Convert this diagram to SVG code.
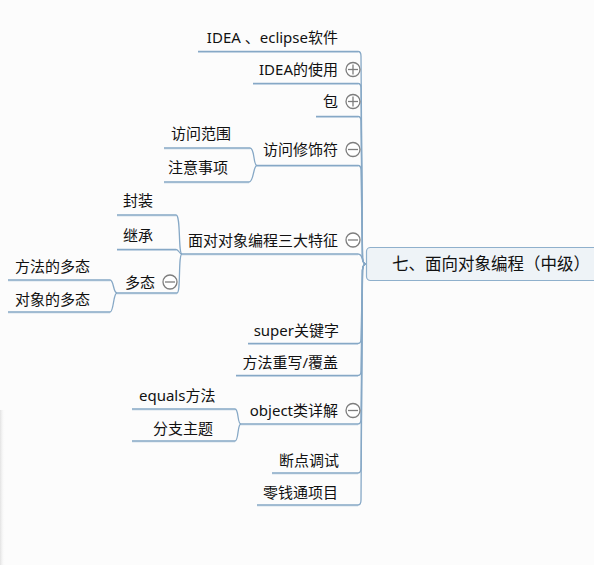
<svg xmlns="http://www.w3.org/2000/svg" width="594" height="565" viewBox="0 0 594 565">
<defs>
<linearGradient id="sh" x1="0" y1="0" x2="1" y2="0">
<stop offset="0" stop-color="#e2e2e2"/>
<stop offset="1" stop-color="#fcfcfc" stop-opacity="0"/>
</linearGradient>
<style>
.t{font-family:"Noto Sans","Noto Sans CJK SC",sans-serif;font-size:15px;fill:#111}
.e{text-anchor:end}
.r{font-size:16.5px}
.u{stroke:#86a8c6;stroke-width:1.3;fill:none}
.us{stroke:#d6e2ec;stroke-width:1;fill:none}
.c{stroke:#86a8c6;stroke-width:1.3;fill:none}
.k{fill:#fff;stroke:#7d7d7d;stroke-width:1.3}
.km{stroke:#7d7d7d;stroke-width:1.3}
</style>
</defs>
<rect width="594" height="565" fill="#fcfcfc"/>
<rect x="0" y="410" width="5" height="155" fill="url(#sh)"/>

<g id="connectors">
<path class="c" d="M358 51.5 Q361 51.5 361 56 L362.5 258 Q363 264 366 264"/>
<path class="c" d="M358 83.5 Q361 83.5 361 88 L362.5 258 Q363 264 366 264"/>
<path class="c" d="M358 116.5 Q361 116.5 361 121 L362.5 258 Q363 264 366 264"/>
<path class="c" d="M358 165.5 Q361 165.5 361 170 L362.5 258 Q363 264 366 264"/>
<path class="c" d="M358 254 Q361 254 362 258 Q363 264 366 264"/>
<path class="c" d="M358 343.5 Q361 343.5 361 339 L362.5 270 Q363 264 366 264"/>
<path class="c" d="M358 375.5 Q361 375.5 361 371 L362.5 270 Q363 264 366 264"/>
<path class="c" d="M358 424 Q361 424 361 419 L362.5 270 Q363 264 366 264"/>
<path class="c" d="M358 473 Q361 473 361 468 L362.5 270 Q363 264 366 264"/>
<path class="c" d="M358 505 Q361 505 361 500 L362.5 270 Q363 264 366 264"/>
<path class="c" d="M250 148 C255 148 253 165.5 257 165.5"/>
<path class="c" d="M249 182 C254 182 253 165.5 257 165.5"/>
<path class="c" d="M176 215 C181 215 178 254 182 254"/>
<path class="c" d="M176 249.5 C179 249.5 179 254 182 254"/>
<path class="c" d="M177 293 C181 293 178 254 182 254"/>
<path class="c" d="M110 280 C114 280 113 293 117 293"/>
<path class="c" d="M110 312 C114 312 113 293 117 293"/>
<path class="c" d="M235 409 C239 409 237 424 241 424"/>
<path class="c" d="M235 441 C239 441 237 424 241 424"/>
</g>

<g id="root">
<rect x="366.5" y="247.5" width="240" height="33" rx="4" fill="#eef3f7" stroke="#8fb0cc" stroke-width="1.2"/>
<text class="t r" x="392" y="270">七、面向对象编程（中级）</text>
</g>

<g id="n-idea-eclipse">
<line class="us" x1="198" y1="52.5" x2="358" y2="52.5"/>
<line class="u" x1="198" y1="51.5" x2="358" y2="51.5"/>
<text class="t e" x="338" y="42.5">IDEA 、eclipse软件</text>
</g>
<g id="n-idea-use">
<line class="us" x1="253" y1="84.5" x2="358" y2="84.5"/>
<line class="u" x1="253" y1="83.5" x2="358" y2="83.5"/>
<text class="t e" x="338" y="74.5">IDEA的使用</text>
<circle class="k" cx="353" cy="69.5" r="7"/>
<line class="km" x1="348" y1="69.5" x2="358" y2="69.5"/>
<line class="km" x1="353" y1="64.5" x2="353" y2="74.5"/>
</g>
<g id="n-package">
<line class="us" x1="316" y1="117.5" x2="358" y2="117.5"/>
<line class="u" x1="316" y1="116.5" x2="358" y2="116.5"/>
<text class="t e" x="338" y="107">包</text>
<circle class="k" cx="353" cy="101.5" r="7"/>
<line class="km" x1="348" y1="101.5" x2="358" y2="101.5"/>
<line class="km" x1="353" y1="96.5" x2="353" y2="106.5"/>
</g>
<g id="n-access">
<line class="us" x1="257" y1="166.5" x2="358" y2="166.5"/>
<line class="u" x1="257" y1="165.5" x2="358" y2="165.5"/>
<text class="t e" x="338" y="155">访问修饰符</text>
<circle class="k" cx="353" cy="149.5" r="7"/>
<line class="km" x1="348" y1="149.5" x2="358" y2="149.5"/>
</g>
<g id="n-access-range">
<line class="us" x1="164" y1="149" x2="250" y2="149"/>
<line class="u" x1="164" y1="148" x2="250" y2="148"/>
<text class="t" x="171" y="139">访问范围</text>
</g>
<g id="n-access-note">
<line class="us" x1="164" y1="183" x2="249" y2="183"/>
<line class="u" x1="164" y1="182" x2="249" y2="182"/>
<text class="t" x="168" y="172.5">注意事项</text>
</g>
<g id="n-three">
<line class="us" x1="182" y1="255" x2="358" y2="255"/>
<line class="u" x1="182" y1="254" x2="358" y2="254"/>
<text class="t e" x="338" y="245.5">面对对象编程三大特征</text>
<circle class="k" cx="353" cy="240" r="7"/>
<line class="km" x1="348" y1="240" x2="358" y2="240"/>
</g>
<g id="n-encap">
<line class="us" x1="117" y1="216" x2="176" y2="216"/>
<line class="u" x1="117" y1="215" x2="176" y2="215"/>
<text class="t" x="123" y="205.5">封装</text>
</g>
<g id="n-inherit">
<line class="us" x1="117" y1="250.5" x2="176" y2="250.5"/>
<line class="u" x1="117" y1="249.5" x2="176" y2="249.5"/>
<text class="t" x="123" y="240.5">继承</text>
</g>
<g id="n-poly">
<line class="us" x1="117" y1="294" x2="177" y2="294"/>
<line class="u" x1="117" y1="293" x2="177" y2="293"/>
<text class="t" x="125" y="287.5">多态</text>
<circle class="k" cx="170" cy="282" r="7"/>
<line class="km" x1="165" y1="282" x2="175" y2="282"/>
</g>
<g id="n-poly-method">
<line class="us" x1="8" y1="281" x2="110" y2="281"/>
<line class="u" x1="8" y1="280" x2="110" y2="280"/>
<text class="t" x="15" y="271.5">方法的多态</text>
</g>
<g id="n-poly-object">
<line class="us" x1="8" y1="313" x2="110" y2="313"/>
<line class="u" x1="8" y1="312" x2="110" y2="312"/>
<text class="t" x="15" y="305">对象的多态</text>
</g>
<g id="n-super">
<line class="us" x1="248" y1="344.5" x2="358" y2="344.5"/>
<line class="u" x1="248" y1="343.5" x2="358" y2="343.5"/>
<text class="t e" x="339" y="335.5">super关键字</text>
</g>
<g id="n-override">
<line class="us" x1="236" y1="376.5" x2="358" y2="376.5"/>
<line class="u" x1="236" y1="375.5" x2="358" y2="375.5"/>
<text class="t e" x="338" y="367.5">方法重写/覆盖</text>
</g>
<g id="n-object">
<line class="us" x1="241" y1="425" x2="358" y2="425"/>
<line class="u" x1="241" y1="424" x2="358" y2="424"/>
<text class="t e" x="338" y="415.5">object类详解</text>
<circle class="k" cx="353" cy="410.5" r="7"/>
<line class="km" x1="348" y1="410.5" x2="358" y2="410.5"/>
</g>
<g id="n-equals">
<line class="us" x1="132" y1="410" x2="235" y2="410"/>
<line class="u" x1="132" y1="409" x2="235" y2="409"/>
<text class="t" x="139" y="400.5">equals方法</text>
</g>
<g id="n-branch">
<line class="us" x1="132" y1="442" x2="235" y2="442"/>
<line class="u" x1="132" y1="441" x2="235" y2="441"/>
<text class="t" x="153" y="433.5">分支主题</text>
</g>
<g id="n-debug">
<line class="us" x1="272" y1="474" x2="358" y2="474"/>
<line class="u" x1="272" y1="473" x2="358" y2="473"/>
<text class="t e" x="339" y="465.5">断点调试</text>
</g>
<g id="n-change">
<line class="us" x1="257" y1="506" x2="358" y2="506"/>
<line class="u" x1="257" y1="505" x2="358" y2="505"/>
<text class="t e" x="338" y="497.5">零钱通项目</text>
</g>
</svg>
